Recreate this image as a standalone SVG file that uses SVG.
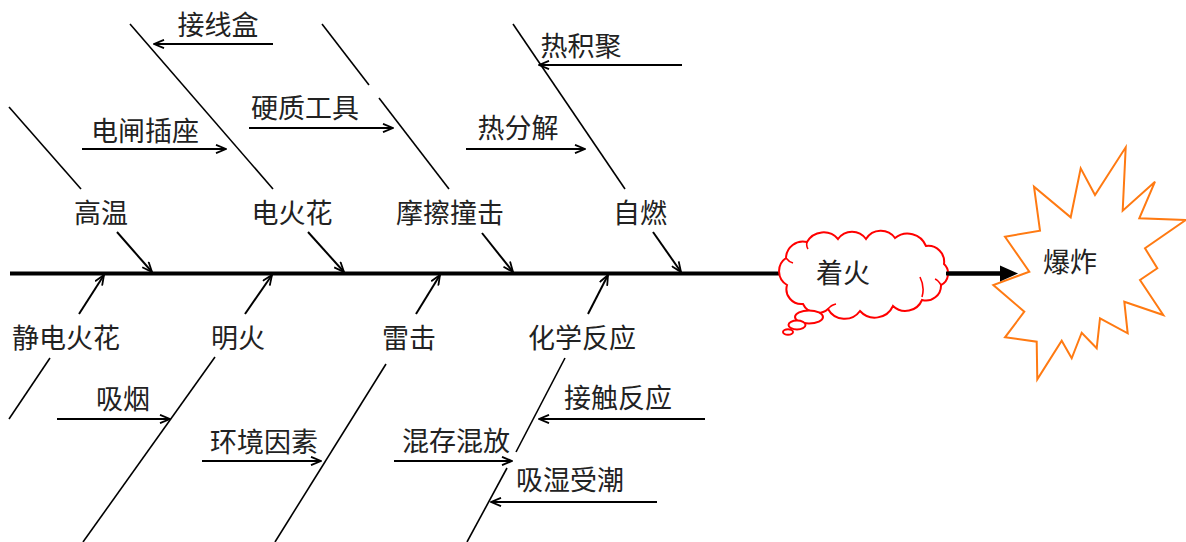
<svg xmlns="http://www.w3.org/2000/svg" width="1186" height="542" viewBox="0 0 1186 542">
<style>
.t{font-family:"Noto Sans CJK SC","Noto Sans",sans-serif;font-size:27px;fill:#222;text-anchor:middle}
.b{stroke:#000;stroke-width:1.6;fill:none}
.a{stroke:#000;stroke-width:2;fill:none;marker-end:url(#v)}
</style>
<defs>
<marker id="v" viewBox="0 0 12 10" refX="11" refY="5" markerWidth="12" markerHeight="10" markerUnits="userSpaceOnUse" orient="auto">
<path d="M1,0.8 L11,5 L1,9.2" fill="none" stroke="#000" stroke-width="1.8"/>
</marker>
</defs>
<rect width="1186" height="542" fill="#fff"/>
<g id="connectors">
<line x1="10" y1="273.5" x2="1004" y2="273.5" stroke="#000" stroke-width="4"/>
<line class="b" x1="9" y1="107" x2="81" y2="189"/>
<line class="b" x1="130" y1="24" x2="273" y2="189"/>
<line class="b" x1="322" y1="24" x2="369" y2="85"/>
<line class="b" x1="379" y1="98" x2="449" y2="189"/>
<line class="b" x1="513" y1="24" x2="625" y2="189"/>
<line class="a" x1="117" y1="232" x2="152" y2="272"/>
<line class="a" x1="308" y1="232" x2="344" y2="272"/>
<line class="a" x1="482" y1="233" x2="513" y2="272"/>
<line class="a" x1="653" y1="232" x2="681" y2="272"/>
<line class="a" x1="273" y1="44" x2="154" y2="44"/>
<line class="a" x1="82" y1="149" x2="226" y2="149"/>
<line class="a" x1="249" y1="128" x2="393" y2="128"/>
<line class="a" x1="682" y1="65" x2="539" y2="65"/>
<line class="a" x1="466" y1="149" x2="585" y2="149"/>
<line class="b" x1="50" y1="358" x2="9" y2="419"/>
<line class="b" x1="215" y1="357" x2="83" y2="542"/>
<line class="b" x1="386" y1="364" x2="275" y2="542"/>
<line class="b" x1="565" y1="358" x2="516" y2="452"/>
<line class="b" x1="507" y1="468" x2="467" y2="542"/>
<line class="a" x1="79" y1="314" x2="104" y2="275"/>
<line class="a" x1="245" y1="314" x2="272" y2="275"/>
<line class="a" x1="416" y1="314" x2="440" y2="275"/>
<line class="a" x1="588" y1="314" x2="608" y2="275"/>
<line class="a" x1="57" y1="419" x2="170" y2="419"/>
<line class="a" x1="202" y1="461" x2="321" y2="461"/>
<line class="a" x1="705" y1="419" x2="539" y2="419"/>
<line class="a" x1="394" y1="461" x2="512" y2="461"/>
<line class="a" x1="657" y1="502" x2="491" y2="502"/>
</g>
<g id="n-gaowen"><text class="t" x="101" y="223">高温</text></g>
<g id="n-jiexianhe"><text class="t" x="218" y="35">接线盒</text></g>
<g id="n-dianzhachazuo"><text class="t" x="145" y="141">电闸插座</text></g>
<g id="n-yingzhigongju"><text class="t" x="305" y="118">硬质工具</text></g>
<g id="n-dianhuohua"><text class="t" x="292" y="223">电火花</text></g>
<g id="n-mocazhuangji"><text class="t" x="450" y="223">摩擦撞击</text></g>
<g id="n-rejiju"><text class="t" x="581" y="56">热积聚</text></g>
<g id="n-refenjie"><text class="t" x="518" y="138">热分解</text></g>
<g id="n-ziran"><text class="t" x="640" y="223">自燃</text></g>
<g id="n-jingdianhuohua"><text class="t" x="66" y="348">静电火花</text></g>
<g id="n-minghuo"><text class="t" x="238" y="348">明火</text></g>
<g id="n-leiji"><text class="t" x="409" y="348">雷击</text></g>
<g id="n-huaxuefanying"><text class="t" x="582" y="348">化学反应</text></g>
<g id="n-xiyan"><text class="t" x="123" y="409">吸烟</text></g>
<g id="n-huanjingyinsu"><text class="t" x="264" y="452">环境因素</text></g>
<g id="n-jiechufanying"><text class="t" x="618" y="408">接触反应</text></g>
<g id="n-hunchunhunfang"><text class="t" x="456" y="451">混存混放</text></g>
<g id="n-xishishouchao"><text class="t" x="570" y="490">吸湿受潮</text></g>
<g id="n-zhaohuo">
<path d="M787,285 A16,16 0 0 1 786,258 A17,17 0 0 1 807,242 A19,19 0 0 1 838,239 A17,17 0 0 1 866,239 A17.5,17.5 0 0 1 895,238 A20,20 0 0 1 926,246 A16,16 0 0 1 944,264 A13,13 0 0 1 941,285 A15,15 0 0 1 922,300 A18,18 0 0 1 893,306 A20,20 0 0 1 860,311 A19,19 0 0 1 828,309 A16,16 0 0 1 803,304 A15,15 0 0 1 787,285 Z" fill="#fff" stroke="#f00" stroke-width="2"/>
<path d="M786,258 Q789,262 793,263 M807,242 Q806,246 808,249 M920,277 Q925,287 922,297 M941,285 Q938,280 935,279 M828,309 Q831,305 836,304" fill="none" stroke="#f00" stroke-width="1.6"/>
<ellipse cx="809" cy="317" rx="14" ry="6.5" fill="#fff" stroke="#f00" stroke-width="2"/>
<ellipse cx="797" cy="325" rx="8.5" ry="4.5" fill="#fff" stroke="#f00" stroke-width="2"/>
<ellipse cx="788" cy="332" rx="5" ry="2.8" fill="#fff" stroke="#f00" stroke-width="2"/>
<text class="t" x="843" y="283">着火</text>
</g>
<g id="n-baozha">
<polygon points="1005,236.7 1040,230.7 1034,186.7 1070.7,217.3 1080.7,168.3 1095,195 1125.7,147.3 1122.7,210.7 1155,181.7 1139.3,218.3 1185.7,220 1145,248.3 1157.3,268.3 1140,280 1163.3,315 1124.3,301.7 1127.7,333.3 1100,318.3 1096.7,348.3 1081.7,332.7 1071.7,358.3 1061.7,340.7 1037.3,379.3 1036.7,341.7 1005,337.3 1024.3,311.7 993.3,285 1029.3,271.7" fill="#fff" stroke="#ff7a12" stroke-width="2"/>
<text class="t" x="1070" y="272">爆炸</text>
</g>
<g id="main-arrow">
<line x1="946" y1="273.5" x2="1004" y2="273.5" stroke="#000" stroke-width="4"/>
<polygon points="1000,265.5 1018,273.5 1000,281.5" fill="#000"/>
</g>
</svg>
